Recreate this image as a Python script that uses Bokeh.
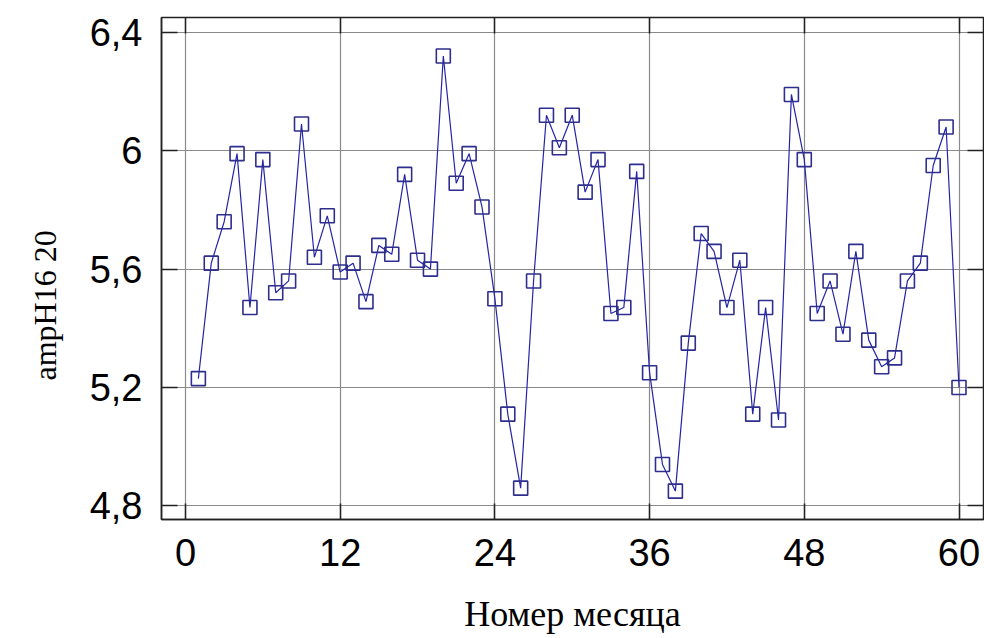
from bokeh.plotting import figure
from bokeh.models import FixedTicker, LinearAxis, Range1d, Title
from bokeh.embed import file_html
from bokeh.resources import INLINE

months = list(range(1, 61))
values = [5.23, 5.62, 5.76, 5.99, 5.47, 5.97, 5.52, 5.56, 6.09, 5.64,
          5.78, 5.59, 5.62, 5.49, 5.68, 5.65, 5.92, 5.63, 5.60, 6.32,
          5.89, 5.99, 5.81, 5.50, 5.11, 4.86, 5.56, 6.12, 6.01, 6.12,
          5.86, 5.97, 5.45, 5.47, 5.93, 5.25, 4.94, 4.85, 5.35, 5.72,
          5.66, 5.47, 5.63, 5.11, 5.47, 5.09, 6.19, 5.97, 5.45, 5.56,
          5.38, 5.66, 5.36, 5.27, 5.30, 5.56, 5.62, 5.95, 6.08, 5.20]
x_ticks = [0, 12, 24, 36, 48, 60]
y_ticks = [4.8, 5.2, 5.6, 6.0, 6.4]
y_tick_labels = {4.8: "4,8", 5.2: "5,2", 5.6: "5,6", 6.0: "6", 6.4: "6,4"}
x_title = "Номер месяца"
y_title = "ampH16 20"

p = figure(width=984, height=638, output_backend="svg", toolbar_location=None,
           x_range=Range1d(-1.86, 61.9), y_range=Range1d(4.754, 6.45),
           min_border_left=161, min_border_right=1, min_border_top=17,
           min_border_bottom=119)
p.background_fill_color = "white"
p.border_fill_color = "white"
p.outline_line_color = "#222222"
p.outline_line_width = 1.5

for ax in [p.xaxis[0], p.yaxis[0]]:
    ax.major_tick_in = 16
    ax.major_tick_out = 0
    ax.minor_tick_in = 0
    ax.minor_tick_out = 0
    ax.axis_line_color = "#222222"
    ax.axis_line_width = 1.5
    ax.major_tick_line_color = "#222222"
    ax.major_tick_line_width = 1.5
    ax.major_label_text_font = "Liberation Sans"
    ax.major_label_text_font_size = "38px"
    ax.major_label_text_color = "black"

p.xaxis.ticker = FixedTicker(ticks=x_ticks)
p.yaxis.ticker = FixedTicker(ticks=y_ticks)
p.yaxis.major_label_overrides = y_tick_labels
p.xaxis.major_label_standoff = 19
p.yaxis.major_label_standoff = 19

p.xaxis.axis_label = x_title
p.xaxis.axis_label_standoff = 25
p.xaxis.axis_label_text_font = "Liberation Serif"
p.xaxis.axis_label_text_font_size = "36px"
p.xaxis.axis_label_text_font_style = "normal"
p.xaxis.axis_label_text_color = "black"

top = LinearAxis(ticker=FixedTicker(ticks=x_ticks), major_label_text_color=None,
                 major_tick_in=16, major_tick_out=0, minor_tick_in=0, minor_tick_out=0,
                 axis_line_color="#222222", major_tick_line_color="#222222",
                 major_tick_line_width=1.5)
right = LinearAxis(ticker=FixedTicker(ticks=y_ticks), major_label_text_color=None,
                   major_tick_in=16, major_tick_out=0, minor_tick_in=0, minor_tick_out=0,
                   axis_line_color="#222222", major_tick_line_color="#222222",
                   major_tick_line_width=1.5)
p.add_layout(top, "above")
p.add_layout(right, "right")

p.xgrid.ticker = FixedTicker(ticks=x_ticks)
p.ygrid.ticker = FixedTicker(ticks=y_ticks)
p.grid.grid_line_color = "#8a8a8a"
p.grid.grid_line_width = 1.2

p.line(months, values, line_color="#2424a8", line_width=1.2)
p.scatter(months, values, marker="square", size=14, fill_color=None,
          line_color="#2e2e8e", line_width=1.6)

yt = Title(text=y_title, align="left", offset=139, standoff=47,
           text_font="Liberation Serif", text_font_size="32px",
           text_font_style="normal", text_color="black")
p.add_layout(yt, "left")

open("out.html", "w").write(file_html(p, INLINE))
